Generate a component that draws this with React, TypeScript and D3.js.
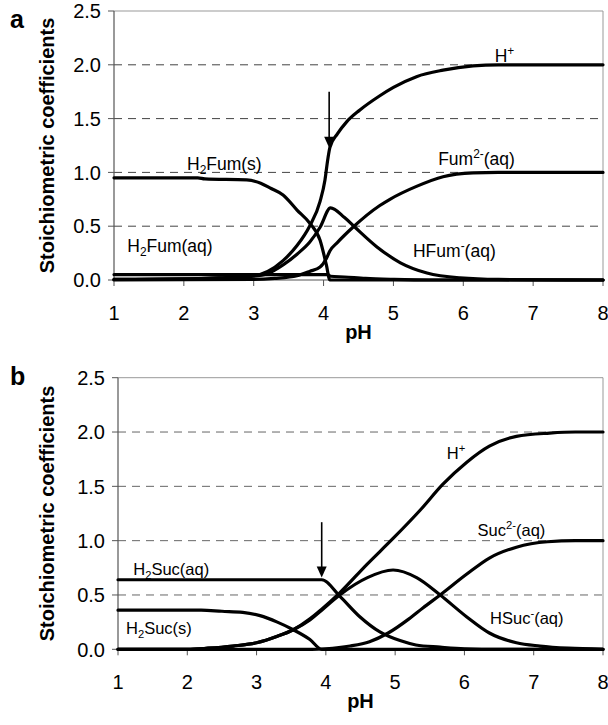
import React from "react";
import * as d3 from "d3";

type Pt = [number, number];

// ---------- Panel a: fumaric acid ----------
const fumSolid: Pt[] = [[1,0.95],[2.2,0.95],[2.3,0.94],[2.9,0.93],[3.1,0.9],[3.25,0.85],[3.42,0.79],[3.62,0.65],[3.8,0.53],[3.95,0.37],[4.04,0.14],[4.09,0.0],[8,0]];
const fumAq: Pt[] = [[1,0.05],[4.06,0.05],[4.1,0.035],[4.3,0.028],[4.6,0.015],[5.0,0.006],[5.5,0.0],[8,0]];
const fumHplus: Pt[] = [[1,0.005],[2,0.01],[2.5,0.02],[3,0.04],[3.2,0.08],[3.42,0.18],[3.62,0.32],[3.8,0.5],[3.95,0.73],[4.02,0.93],[4.06,1.12],[4.09,1.23],[4.2,1.36],[4.33,1.47],[4.52,1.58],[4.8,1.71],[5.0,1.79],[5.33,1.89],[5.71,1.95],[6.14,1.99],[6.5,2.0],[8,2.0]];
const fumHFum: Pt[] = [[1,0.005],[2,0.01],[2.5,0.02],[3,0.035],[3.2,0.06],[3.42,0.14],[3.62,0.24],[3.8,0.35],[3.95,0.49],[4.1,0.67],[4.3,0.58],[4.45,0.49],[4.76,0.31],[5.1,0.16],[5.48,0.065],[5.95,0.02],[6.5,0.005],[8,0]];
const fumFum2: Pt[] = [[1,0],[3,0.005],[3.3,0.015],[3.62,0.04],[3.8,0.08],[3.95,0.12],[4.04,0.2],[4.09,0.27],[4.2,0.35],[4.42,0.49],[4.8,0.69],[4.95,0.75],[5.33,0.87],[5.71,0.96],[6.14,0.995],[6.5,1.0],[8,1.0]];

// ---------- Panel b: succinic acid ----------
const sucAq: Pt[] = [[1,0.64],[3.94,0.64],[4.2,0.49],[4.49,0.3],[4.78,0.16],[5.07,0.08],[5.3,0.04],[5.65,0.02],[6,0.005],[6.5,0],[8,0]];
const sucSolid: Pt[] = [[1,0.36],[2.2,0.36],[2.5,0.35],[2.8,0.34],[3.05,0.31],[3.3,0.25],[3.53,0.18],[3.77,0.09],[3.94,0.0],[8,0]];
const sucHSuc: Pt[] = [[1,0],[2,0],[2.3,0.01],[2.66,0.03],[3.0,0.06],[3.3,0.12],[3.53,0.18],[3.77,0.27],[3.94,0.36],[4.2,0.5],[4.6,0.66],[4.97,0.73],[5.31,0.66],[5.65,0.5],[6.03,0.3],[6.36,0.15],[6.75,0.06],[7.09,0.03],[7.5,0.01],[8,0]];
const sucSuc2: Pt[] = [[1,0],[3.8,0],[4.0,0.005],[4.35,0.03],[4.63,0.07],[4.9,0.15],[5.2,0.28],[5.4,0.38],[5.65,0.5],[6.03,0.69],[6.36,0.84],[6.75,0.94],[7.2,0.99],[7.6,1.0],[8,1.0]];
const sucHplus: Pt[] = [[1,0],[2,0],[2.3,0.01],[2.66,0.03],[3.0,0.06],[3.3,0.12],[3.53,0.18],[3.77,0.28],[3.94,0.37],[4.2,0.52],[4.59,0.78],[4.97,1.02],[5.36,1.28],[5.69,1.52],[6.03,1.72],[6.36,1.87],[6.75,1.96],[7.23,1.99],[7.6,2.0],[8,2.0]];

// ---------- ticks ----------
const xTicks = [1, 2, 3, 4, 5, 6, 7, 8];
const yTicks = [0, 0.5, 1.0, 1.5, 2.0, 2.5];
const gridValues = [0.5, 1.0, 1.5, 2.0];

// ---------- labels ----------
type Lab = { pre: string; script: string; kind: "sub" | "sup" | ""; post: string; x: number; y: number };
const fumLabels: Lab[] = [
  { pre: "H", script: "2", kind: "sub", post: "Fum(s)", x: 2.045, y: 1.02 },
  { pre: "H", script: "2", kind: "sub", post: "Fum(aq)", x: 1.19, y: 0.26 },
  { pre: "H", script: "+", kind: "sup", post: "", x: 6.45, y: 2.03 },
  { pre: "Fum", script: "2-", kind: "sup", post: "(aq)", x: 5.64, y: 1.07 },
  { pre: "HFum", script: "-", kind: "sup", post: "(aq)", x: 5.28, y: 0.21 },
];
const sucLabels: Lab[] = [
  { pre: "H", script: "2", kind: "sub", post: "Suc(aq)", x: 1.22, y: 0.684 },
  { pre: "H", script: "2", kind: "sub", post: "Suc(s)", x: 1.115, y: 0.14 },
  { pre: "H", script: "+", kind: "sup", post: "", x: 5.745, y: 1.75 },
  { pre: "Suc", script: "2-", kind: "sup", post: "(aq)", x: 6.19, y: 1.04 },
  { pre: "HSuc", script: "-", kind: "sup", post: "(aq)", x: 6.37, y: 0.233 },
];

// arrows: [pH, from value, to value]
const fumArrow = [4.08, 1.75, 1.23];
const sucArrow = [3.94, 1.17, 0.66];

const FONT = "'Liberation Sans', Arial, Helvetica, sans-serif";

type PanelProps = {
  letter: string;
  letterY: number;
  left: number; right: number; top: number; bottom: number;
  series: Pt[][];
  labels: Lab[];
  arrow: number[];
  labelSize: number;
  gridColor: string;
};

function Panel({ letter, letterY, left, right, top, bottom, series, labels, arrow, labelSize, gridColor }: PanelProps) {
  const x = d3.scaleLinear().domain([1, 8]).range([left, right]);
  const y = d3.scaleLinear().domain([0, 2.5]).range([bottom, top]);
  const line = d3.line<Pt>().x(d => x(d[0])).y(d => y(d[1])).curve(d3.curveMonotoneX);
  const ax = x(arrow[0]);
  const ay0 = y(arrow[1]);
  const ay1 = y(arrow[2]);
  return (
    <g>
      <text x={10} y={letterY} fontFamily={FONT} fontWeight="bold" fontSize={25}>{letter}</text>
      <line x1={left} x2={right} y1={top} y2={top} stroke="#999" strokeWidth={1} />
      <line x1={right} x2={right} y1={top} y2={bottom} stroke="#999" strokeWidth={1} />
      {gridValues.map(v => (
        <line key={v} x1={left} x2={right} y1={y(v)} y2={y(v)} stroke={gridColor} strokeWidth={1} strokeDasharray="8,6" />
      ))}
      <line x1={left} x2={left} y1={top} y2={bottom} stroke="#555" strokeWidth={1.2} />
      <line x1={left} x2={right} y1={bottom} y2={bottom} stroke="#555" strokeWidth={1.2} />
      {yTicks.map(v => (
        <g key={v}>
          <line x1={left - 6} x2={left} y1={y(v)} y2={y(v)} stroke="#555" />
          <text x={left - 13} y={y(v)} dy="0.36em" textAnchor="end" fontFamily={FONT} fontSize={20}>{v.toFixed(1)}</text>
        </g>
      ))}
      {xTicks.map(v => (
        <g key={v}>
          <line x1={x(v)} x2={x(v)} y1={bottom} y2={bottom + 6} stroke="#555" />
          <text x={x(v)} y={bottom + 40} textAnchor="middle" fontFamily={FONT} fontSize={20}>{v}</text>
        </g>
      ))}
      <text x={(left + right) / 2} y={bottom + 59} textAnchor="middle" fontFamily={FONT} fontWeight="bold" fontSize={20}>pH</text>
      <text transform={`translate(54,${(top + bottom) / 2}) rotate(-90)`} textAnchor="middle" fontFamily={FONT} fontWeight="bold" fontSize={20}>Stoichiometric coefficients</text>
      {series.map((s, i) => (
        <path key={i} d={line(s) || ""} fill="none" stroke="#000" strokeWidth={3.2} strokeLinejoin="round" strokeLinecap="round" />
      ))}
      {labels.map((l, i) => (
        <text key={i} x={x(l.x)} y={y(l.y)} fontFamily={FONT} fontSize={labelSize}>
          <tspan>{l.pre}</tspan>
          {l.kind === "sub" && <tspan dy={4} fontSize={labelSize * 0.68}>{l.script}</tspan>}
          {l.kind === "sup" && <tspan dy={-7} fontSize={labelSize * 0.68}>{l.script}</tspan>}
          {l.post && <tspan dy={l.kind === "sub" ? -4 : 7}>{l.post}</tspan>}
        </text>
      ))}
      <line x1={ax} x2={ax} y1={ay0} y2={ay1 - 8} stroke="#000" strokeWidth={1.6} />
      <path d={`M${ax - 5},${ay1 - 11} L${ax + 5},${ay1 - 11} L${ax},${ay1} Z`} fill="#000" />
    </g>
  );
}

export default function App() {
  return (
    <svg width={608} height={725} style={{ position: "absolute", left: 0, top: 0, background: "#fff" }}>
      <rect x={0} y={0} width={608} height={725} fill="#fff" />
      <Panel letter="a" letterY={28} left={114} right={603} top={11} bottom={280}
        series={[fumSolid, fumAq, fumHplus, fumHFum, fumFum2]}
        labels={fumLabels} arrow={fumArrow} labelSize={17.5} gridColor="#444" />
      <Panel letter="b" letterY={385} left={118} right={603} top={377.7} bottom={649.3}
        series={[sucAq, sucSolid, sucHSuc, sucSuc2, sucHplus]}
        labels={sucLabels} arrow={sucArrow} labelSize={16.5} gridColor="#666" />
    </svg>
  );
}
